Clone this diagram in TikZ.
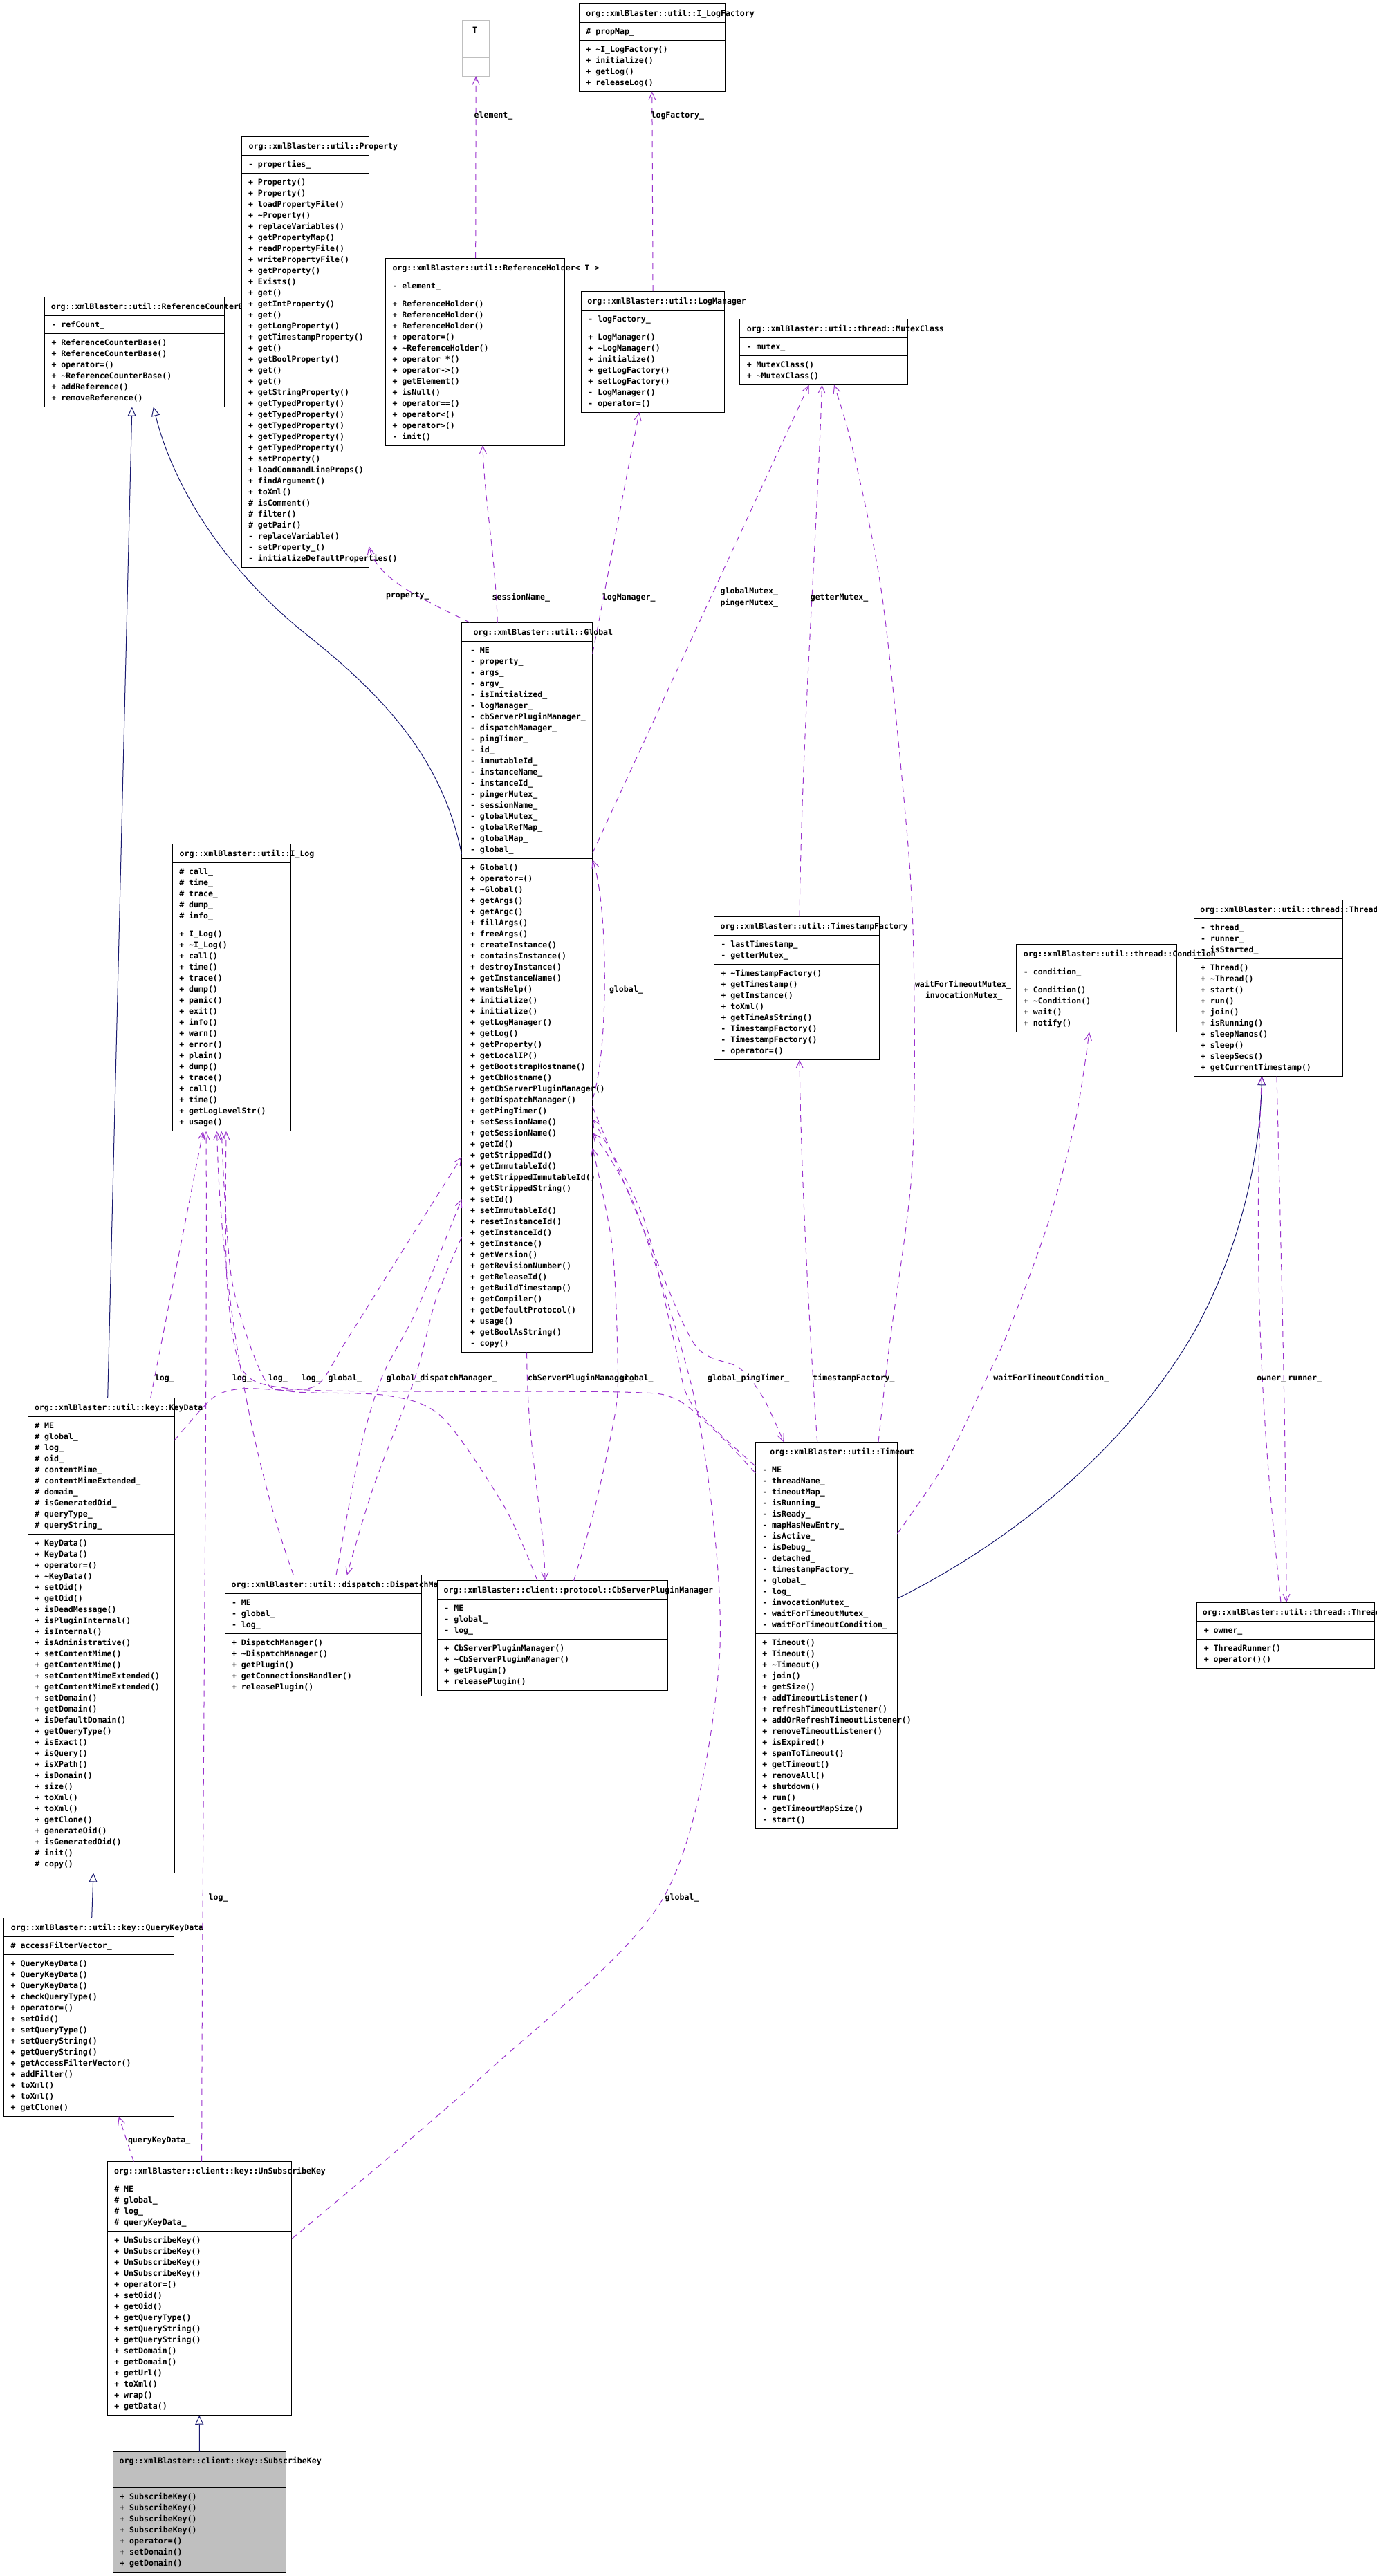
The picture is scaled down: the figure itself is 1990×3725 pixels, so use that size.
\documentclass[tikz,border=0pt]{standalone}
\usepackage{fontspec}
\setmonofont{DejaVu Sans Mono}
\usetikzlibrary{arrows.meta}
\definecolor{collabc}{HTML}{9A32CD}
\definecolor{inhc}{HTML}{191970}
\definecolor{graybox}{HTML}{BFBFBF}
\newcommand\memoff{10}
\tikzset{
  lbl/.style={font=\ttfamily\bfseries\fontsize{11.55}{16}\selectfont, inner sep=0pt, outer sep=0pt, anchor=base west},
  collab/.style={draw=collabc, line width=1pt, dash pattern=on 9pt off 7pt, -{Straight Barb[length=11pt,width=10pt]}},
  inherit/.style={draw=inhc, line width=1pt, -{Triangle[open,fill=white,length=13pt,width=12pt]}},
}
% #1 fill, #2 name, #3 x, #4 y, #5 width, #6 title offset, #7 title, #8 attributes, #9 methods
\newcommand\umlbox[9][white]{%
  \pgfmathsetmacro\ux{#3}\pgfmathsetmacro\uy{#4}\pgfmathsetmacro\uw{#5}%
  \gdef\nA{0}\gdef\nM{0}%
  \foreach \itm [count=\n] in {#8} {\xdef\nA{\n}}%
  \foreach \itm [count=\n] in {#9} {\xdef\nM{\n}}%
  \pgfmathsetmacro\ua{(\nA==0)?26:16*\nA+10}%
  \pgfmathsetmacro\uat{\uy+27}%
  \pgfmathsetmacro\umt{\uat+\ua}%
  \pgfmathsetmacro\uh{27+\ua+16*\nM+10}%
  \node[draw, line width=1pt, fill=#1, minimum width=\uw pt, minimum height=\uh pt, inner sep=0pt, outer sep=0pt, anchor=north west] (#2) at (\ux,\uy) {};
  \draw[line width=1pt] (\ux,\uat) -- ++(\uw,0);
  \draw[line width=1pt] (\ux,\umt) -- ++(\uw,0);
  \node[lbl] (#2t) at (\ux+#6,\uy+18) {#7};
  \foreach \itm [count=\n] in {#8} {\node[lbl] (#2a\n) at (\ux+\memoff,\uat+16*\n+1) {\itm};}%
  \foreach \itm [count=\n] in {#9} {\node[lbl] (#2m\n) at (\ux+\memoff,\umt+16*\n+1) {\itm};}%
}
\begin{document}
\begin{tikzpicture}[x=1pt,y=-1pt]
\useasboundingbox (0,0) rectangle (1990,3725);
\fill[white] (0,0) rectangle (1990,3725);

% ---------- template parameter box T
\node[draw=graybox, line width=1pt, minimum width=39pt, minimum height=81pt, inner sep=0pt, outer sep=0pt, anchor=north west] (T) at (668.7,29.2) {};
\draw[graybox, line width=1pt] (668.7,56.2) -- ++(39,0) (668.7,83.2) -- ++(39,0);
\node[lbl] (Tt) at (683,47.2) {T};

\umlbox{ILogFactory}{837.4}{5.4}{210.8}{10}{org::xmlBlaster::util::I\_LogFactory}
 {\# propMap\_}
 {+ \textasciitilde I\_LogFactory(), + initialize(), + getLog(), + releaseLog()}

\umlbox{RCB}{64.5}{429.6}{260}{9.3}{org::xmlBlaster::util::ReferenceCounterBase}
 {- refCount\_}
 {+ ReferenceCounterBase(), + ReferenceCounterBase(), + operator=(), + \textasciitilde ReferenceCounterBase(), + addReference(), + removeReference()}

\umlbox{Property}{349}{197.3}{184.5}{10.6}{org::xmlBlaster::util::Property}
 {- properties\_}
 {+ Property(), + Property(), + loadPropertyFile(), + \textasciitilde Property(), + replaceVariables(), + getPropertyMap(), + readPropertyFile(), + writePropertyFile(), + getProperty(), + Exists(), + get(), + getIntProperty(), + get(), + getLongProperty(), + getTimestampProperty(), + get(), + getBoolProperty(), + get(), + get(), + getStringProperty(), + getTypedProperty(), + getTypedProperty(), + getTypedProperty(), + getTypedProperty(), + getTypedProperty(), + setProperty(), + loadCommandLineProps(), + findArgument(), + toXml(), \# isComment(), \# filter(), \# getPair(), - replaceVariable(), - setProperty\_(), - initializeDefaultProperties()}

\umlbox{RefHolder}{557.5}{373}{259}{10}{org::xmlBlaster::util::ReferenceHolder< T >}
 {- element\_}
 {+ ReferenceHolder(), + ReferenceHolder(), + ReferenceHolder(), + operator=(), + \textasciitilde ReferenceHolder(), + operator *(), + operator->(), + getElement(), + isNull(), + operator==(), + operator<(), + operator>(), - init()}

\umlbox{LogManager}{840.4}{421}{207.3}{9}{org::xmlBlaster::util::LogManager}
 {- logFactory\_}
 {+ LogManager(), + \textasciitilde LogManager(), + initialize(), + getLogFactory(), + setLogFactory(), - LogManager(), - operator=()}

\umlbox{MutexClass}{1069.8}{461.6}{242.8}{10}{org::xmlBlaster::util::thread::MutexClass}
 {- mutex\_}
 {+ MutexClass(), + \textasciitilde MutexClass()}

\renewcommand\memoff{12.5}
\umlbox{Global}{667.5}{900.6}{189.2}{17}{org::xmlBlaster::util::Global}
 {- ME, - property\_, - args\_, - argv\_, - isInitialized\_, - logManager\_, - cbServerPluginManager\_, - dispatchManager\_, - pingTimer\_, - id\_, - immutableId\_, - instanceName\_, - instanceId\_, - pingerMutex\_, - sessionName\_, - globalMutex\_, - globalRefMap\_, - globalMap\_, - global\_}
 {+ Global(), + operator=(), + \textasciitilde Global(), + getArgs(), + getArgc(), + fillArgs(), + freeArgs(), + createInstance(), + containsInstance(), + destroyInstance(), + getInstanceName(), + wantsHelp(), + initialize(), + initialize(), + getLogManager(), + getLog(), + getProperty(), + getLocalIP(), + getBootstrapHostname(), + getCbHostname(), + getCbServerPluginManager(), + getDispatchManager(), + getPingTimer(), + setSessionName(), + getSessionName(), + getId(), + getStrippedId(), + getImmutableId(), + getStrippedImmutableId(), + getStrippedString(), + setId(), + setImmutableId(), + resetInstanceId(), + getInstanceId(), + getInstance(), + getVersion(), + getRevisionNumber(), + getReleaseId(), + getBuildTimestamp(), + getCompiler(), + getDefaultProtocol(), + usage(), + getBoolAsString(), - copy()}
\renewcommand\memoff{10}

\umlbox{ILog}{249.3}{1220.9}{171}{10.4}{org::xmlBlaster::util::I\_Log}
 {\# call\_, \# time\_, \# trace\_, \# dump\_, \# info\_}
 {+ I\_Log(), + \textasciitilde I\_Log(), + call(), + time(), + trace(), + dump(), + panic(), + exit(), + info(), + warn(), + error(), + plain(), + dump(), + trace(), + call(), + time(), + getLogLevelStr(), + usage()}

\umlbox{TSF}{1032.4}{1325.3}{238.8}{9.3}{org::xmlBlaster::util::TimestampFactory}
 {- lastTimestamp\_, - getterMutex\_}
 {+ \textasciitilde TimestampFactory(), + getTimestamp(), + getInstance(), + toXml(), + getTimeAsString(), - TimestampFactory(), - TimestampFactory(), - operator=()}

\umlbox{Thread}{1726}{1301.3}{215.4}{9.3}{org::xmlBlaster::util::thread::Thread}
 {- thread\_, - runner\_, - isStarted\_}
 {+ Thread(), + \textasciitilde Thread(), + start(), + run(), + join(), + isRunning(), + sleepNanos(), + sleep(), + sleepSecs(), + getCurrentTimestamp()}

\umlbox{Condition}{1469.9}{1365.3}{231.4}{9.9}{org::xmlBlaster::util::thread::Condition}
 {- condition\_}
 {+ Condition(), + \textasciitilde Condition(), + wait(), + notify()}

\umlbox{KeyData}{40.3}{2021.4}{212}{9.7}{org::xmlBlaster::util::key::KeyData}
 {\# ME, \# global\_, \# log\_, \# oid\_, \# contentMime\_, \# contentMimeExtended\_, \# domain\_, \# isGeneratedOid\_, \# queryType\_, \# queryString\_}
 {+ KeyData(), + KeyData(), + operator=(), + \textasciitilde KeyData(), + setOid(), + getOid(), + isDeadMessage(), + isPluginInternal(), + isInternal(), + isAdministrative(), + setContentMime(), + getContentMime(), + setContentMimeExtended(), + getContentMimeExtended(), + setDomain(), + getDomain(), + isDefaultDomain(), + getQueryType(), + isExact(), + isQuery(), + isXPath(), + isDomain(), + size(), + toXml(), + toXml(), + getClone(), + generateOid(), + isGeneratedOid(), \# init(), \# copy()}

\umlbox{Dispatch}{325}{2277.7}{284.5}{9.6}{org::xmlBlaster::util::dispatch::DispatchManager}
 {- ME, - global\_, - log\_}
 {+ DispatchManager(), + \textasciitilde DispatchManager(), + getPlugin(), + getConnectionsHandler(), + releasePlugin()}

\umlbox{CbServer}{632.4}{2285.7}{333}{9.2}{org::xmlBlaster::client::protocol::CbServerPluginManager}
 {- ME, - global\_, - log\_}
 {+ CbServerPluginManager(), + \textasciitilde CbServerPluginManager(), + getPlugin(), + releasePlugin()}

\umlbox{Timeout}{1092.3}{2085.3}{205}{21}{org::xmlBlaster::util::Timeout}
 {- ME, - threadName\_, - timeoutMap\_, - isRunning\_, - isReady\_, - mapHasNewEntry\_, - isActive\_, - isDebug\_, - detached\_, - timestampFactory\_, - global\_, - log\_, - invocationMutex\_, - waitForTimeoutMutex\_, - waitForTimeoutCondition\_}
 {+ Timeout(), + Timeout(), + \textasciitilde Timeout(), + join(), + getSize(), + addTimeoutListener(), + refreshTimeoutListener(), + addOrRefreshTimeoutListener(), + removeTimeoutListener(), + isExpired(), + spanToTimeout(), + getTimeout(), + removeAll(), + shutdown(), + run(), - getTimeoutMapSize(), - start()}

\umlbox{ThreadRunner}{1730.8}{2317.3}{256.2}{8}{org::xmlBlaster::util::thread::ThreadRunner}
 {+ owner\_}
 {+ ThreadRunner(), + operator()()}

\umlbox{QKD}{5.7}{2773.3}{246}{10.3}{org::xmlBlaster::util::key::QueryKeyData}
 {\# accessFilterVector\_}
 {+ QueryKeyData(), + QueryKeyData(), + QueryKeyData(), + checkQueryType(), + operator=(), + setOid(), + setQueryType(), + setQueryString(), + getQueryString(), + getAccessFilterVector(), + addFilter(), + toXml(), + toXml(), + getClone()}

\umlbox{USK}{155.3}{3125.7}{266.4}{9.7}{org::xmlBlaster::client::key::UnSubscribeKey}
 {\# ME, \# global\_, \# log\_, \# queryKeyData\_}
 {+ UnSubscribeKey(), + UnSubscribeKey(), + UnSubscribeKey(), + UnSubscribeKey(), + operator=(), + setOid(), + getOid(), + getQueryType(), + setQueryString(), + getQueryString(), + setDomain(), + getDomain(), + getUrl(), + toXml(), + wrap(), + getData()}

\umlbox[graybox]{SubscribeKey}{163.3}{3544.5}{250.4}{9.4}{org::xmlBlaster::client::key::SubscribeKey}
 {}
 {+ SubscribeKey(), + SubscribeKey(), + SubscribeKey(), + SubscribeKey(), + operator=(), + setDomain(), + getDomain()}

% ---------- inheritance
\draw[inherit] ([shift={(115.4,0)}]KeyData.north west) -- ([shift={(126.4,0)}]RCB.south west);
\draw[inherit] ([shift={(0,334.4)}]Global.north west) .. controls (640,1100) and (560,1010) .. (440,915)
   .. controls (340,835) and (255,720) .. ([shift={(157.3,0)}]RCB.south west);
\draw[inherit] ([shift={(127,0)}]QKD.north west) -- ([shift={(94.7,0)}]KeyData.south west);
\draw[inherit] (SubscribeKey.north) -- ([shift={(133,0)}]USK.south west);
\draw[inherit] ([shift={(0,226.4)}]Timeout.north east) .. controls (1480,2220) and (1640,2080) .. (1730,1920)
   .. controls (1800,1790) and (1822,1660) .. ([shift={(98.5,0)}]Thread.south west);

% ---------- collaboration
\draw[collab] ([shift={(130.2,0)}]RefHolder.north west) -- (T.south);
\draw[collab] (LogManager.north) -- (ILogFactory.south);
\draw[collab] ([shift={(51.8,0)}]Global.north west) .. controls (716,800) and (700,720) .. ([shift={(140.5,0)}]RefHolder.south west);
\draw[collab] ([shift={(0,44.4)}]Global.north east) .. controls (872,870) and (905,690) .. ([shift={(84.1,0)}]LogManager.south west);
\draw[collab] ([shift={(0,333)}]Global.north east) -- ([shift={(99.9,0)}]MutexClass.south west);
\draw[collab] ([shift={(123.6,0)}]TSF.north west) .. controls (1160,1050) and (1180,800) .. ([shift={(118.7,0)}]MutexClass.south west);
\draw[collab] plot[smooth] coordinates {([shift={(177.7,0)}]Timeout.north west) (1286,1945) (1318,1700) (1322,1450) (1314,1235) (1276,866) (1233,650) ([shift={(136.2,0)}]MutexClass.south west)};
\draw[collab] ([shift={(89.4,0)}]Timeout.north west) .. controls (1172,1950) and (1158,1700) .. ([shift={(123.6,0)}]TSF.south west);
\draw[collab] plot[smooth] coordinates {([shift={(0,132.7)}]Timeout.north east) (1369,2112) (1427,1992) (1460,1920) (1515,1770) (1555,1620) ([shift={(105.1,0)}]Condition.south west)};
\draw[collab] ([shift={(120,0)}]Thread.south west) .. controls (1852,1800) and (1860,2100) .. ([shift={(129.2,0)}]ThreadRunner.north west);
\draw[collab] ([shift={(121.2,0)}]ThreadRunner.north west) .. controls (1835,2150) and (1808,1900) .. ([shift={(98.5,0)}]Thread.south west);
\draw[collab] ([shift={(38,0)}]USK.north west) -- ([shift={(166,0)}]QKD.south west);
\draw[collab] ([shift={(136.4,0)}]USK.north west) .. controls (292,2700) and (300,2000) .. ([shift={(48.7,0)}]ILog.south west);
\draw[collab] ([shift={(177.4,0)}]KeyData.north west) -- ([shift={(44.4,0)}]ILog.south west);
\draw[collab] ([shift={(99.4,0)}]Dispatch.north west) .. controls (360,2100) and (318,1850) .. ([shift={(64.4,0)}]ILog.south west);
\draw[collab] plot[smooth] coordinates {([shift={(144.6,0)}]CbServer.north west) (730,2180) (640,2050) (560,2018) (420,2012) (380,1990) (335,1850) ([shift={(71,0)}]ILog.south west)};
\draw[collab] plot[smooth] coordinates {([shift={(0,44.7)}]Timeout.north west) (1040,2075) (977,2023) (900,2013) (600,2012) (420,2008) (350,1980) (328,1850) ([shift={(77.7,0)}]ILog.south west)};
\draw[collab] plot[smooth] coordinates {([shift={(0,61.6)}]KeyData.north east) (307,2022) (350,2008) (420,2010) (462,2000) (500,1940) (600,1780) ([shift={(0,772.4)}]Global.north west)};
\draw[collab] plot[smooth] coordinates {([shift={(161,0)}]Dispatch.north west) (520,2100) (552,1992) (600,1900) (645,1790) ([shift={(0,833.4)}]Global.north west)};
\draw[collab] plot[smooth] coordinates {([shift={(0,888.4)}]Global.north west) (630,1880) (600,1992) (540,2150) ([shift={(176.7,0)}]Dispatch.north west)};
\draw[collab] ([shift={(94.2,0)}]Global.south west) .. controls (762,2100) and (788,2200) .. ([shift={(155.4,0)}]CbServer.north west);
\draw[collab] plot[smooth] coordinates {([shift={(197.2,0)}]CbServer.north west) (860,2180) (890,2040) (893,1960) (885,1800) ([shift={(0,759.4)}]Global.north east)};
\draw[collab] plot[smooth] coordinates {([shift={(0,699.4)}]Global.north east) (940,1800) (1005,1945) (1069,1978) (1104,2022) ([shift={(41,0)}]Timeout.north west)};
\draw[collab] plot[smooth] coordinates {([shift={(0,34.7)}]Timeout.north west) (1000,2030) (976,1945) (930,1760) ([shift={(0,717.4)}]Global.north east)};
\draw[collab] plot[smooth] coordinates {([shift={(0,111.8)}]USK.north east) (700,3000) (960,2743) (1040,2400) (1010,2050) (920,1750) ([shift={(0,737.4)}]Global.north east)};
\draw[collab] ([shift={(0,689.4)}]Global.north east) .. controls (880,1520) and (880,1310) .. ([shift={(0,342.4)}]Global.north east);
\draw[collab] ([shift={(12.5,0)}]Global.north west) .. controls (620,870) and (545,840) .. ([shift={(0,592.7)}]Property.north east);

% ---------- edge labels
\foreach \lx/\ly/\lt [count=\k] in {
  685.7/171/element\_, 941.6/171/logFactory\_, 711.6/867/sessionName\_, 871/867/logManager\_,
  1041.6/858.6/globalMutex\_, 1041.6/875.1/pingerMutex\_, 1171.8/867/getterMutex\_, 558/864/property\_,
  881/1434/global\_, 1323/1427/waitForTimeoutMutex\_, 1338/1443/invocationMutex\_,
  224/1996/log\_, 336/1996/log\_, 388/1996/log\_, 436/1996/log\_, 474.5/1996/global\_,
  558.8/1996/global\_, 607.4/1996/dispatchManager\_, 763/1996/cbServerPluginManager\_, 896/1996/global\_,
  1023/1996/global\_, 1071.7/1996/pingTimer\_, 1175.4/1996/timestampFactory\_,
  1436.4/1996/waitForTimeoutCondition\_, 1817.4/1996/owner\_, 1862.4/1996/runner\_,
  301.6/2747/log\_, 961.7/2747/global\_, 185/3098/queryKeyData\_}
  {\node[lbl] (lab\k) at (\lx,\ly) {\lt};}
\end{tikzpicture}
\end{document}
